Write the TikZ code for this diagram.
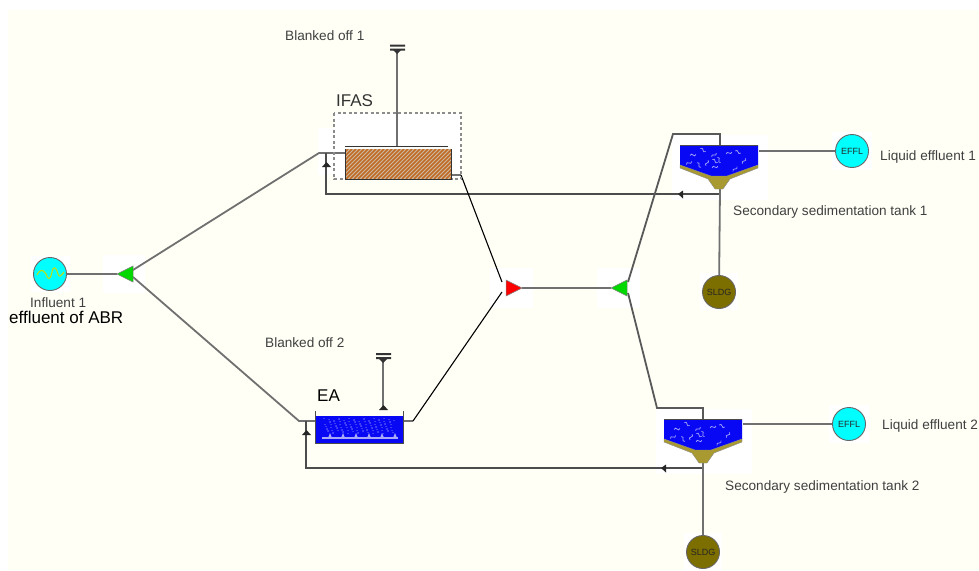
\documentclass[tikz,border=0pt]{standalone}
\usepackage{fontspec}
\setmainfont{Liberation Sans}
\definecolor{paper}{HTML}{FFFFF6}
\definecolor{pipegray}{HTML}{707070}
\definecolor{sludgeolive}{HTML}{7D6E00}
\definecolor{settleolive}{HTML}{A89A30}
\definecolor{tankblue}{HTML}{0808F4}
\definecolor{splitgreen}{HTML}{00D800}
\definecolor{dotcyan}{HTML}{00FFFF}
\definecolor{mediabrown}{HTML}{C06A24}
\definecolor{mediapale}{HTML}{CDBBA0}
\definecolor{flocpale}{HTML}{A8A8F8}
\tikzset{
  pipe/.style={draw=pipegray,line width=1.8pt},
  recycle/.style={draw=black!70,line width=1.3pt},
  thinpipe/.style={draw=black,line width=1.1pt},
  splitter/.style={draw=black!50,fill=splitgreen,line width=.5pt},
  dotbox/.style={circle,draw=black!60,line width=.9pt,minimum size=33pt,inner sep=0pt,text=black!85,font=\fontsize{9}{9}\selectfont},
  efflbox/.style={dotbox,fill=dotcyan},
  sludgebox/.style={dotbox,fill=sludgeolive},
  caption/.style={inner sep=0pt,text=black!75,font=\fontsize{13.6}{14}\selectfont},
  bigcaption/.style={inner sep=0pt,text=black,font=\fontsize{17}{18}\selectfont},
  glow/.style={fill=white,draw=none},
}
\begin{document}
\begin{tikzpicture}[x=1pt,y=-1pt]
  \useasboundingbox (0,0) rectangle (979,570);
  \fill[white] (0,0) rectangle (979,570);
  \fill[paper] (8,10) rectangle (979,570);
  % white patches
  \fill[glow] (335,113) rectangle (461,180);
  \fill[glow] (318,128) rectangle (335,175);
  \fill[glow] (31,256) rectangle (70,292);
  \fill[glow] (103,255) rectangle (145,293);
  \fill[glow] (490,268) rectangle (533,308);
  \fill[glow] (597,268) rectangle (640,308);
  \fill[glow] (672,135) rectangle (768,200);
  \fill[glow] (656,409) rectangle (752,474);
  \fill[glow] (832,132) rectangle (872,170);
  \fill[glow] (829,405) rectangle (869,443);
  \fill[glow] (700,273) rectangle (738,310);
  \fill[glow] (684,533) rectangle (722,570);
  % Node positions
  \node[circle,minimum size=33pt,inner sep=0pt,fill=dotcyan,draw=black!60,line width=.9pt] (inf) at (50,274) {};
  \draw[draw=yellow!75!green,line width=1.1pt] (37,275) .. controls (40,269) and (43,269) .. (46,274) .. controls (48,280) and (50,281) .. (52,272) .. controls (53,266) and (56,266) .. (58,274) .. controls (59,278) and (61,276) .. (64,272);
  \coordinate (splitL) at (117,274);
  \coordinate (splitLtop) at (133,270);
  \coordinate (splitLbot) at (133,277);
  \coordinate (ifasin) at (319,153);
  \coordinate (eain) at (299,421);
  \coordinate (mixin1) at (502,282);
  \coordinate (mixin2) at (502,292);
  \coordinate (mixR) at (522,288);
  \coordinate (splitR) at (611,288);
  \coordinate (splitRtop) at (628,282);
  \coordinate (splitRbot) at (628,293);
  \node[efflbox] (effl1) at (852,151) {EFFL};
  \node[efflbox] (effl2) at (849,424) {EFFL};
  \node[sludgebox] (sldg1) at (719,292) {SLDG};
  \node[sludgebox] (sldg2) at (703,552) {SLDG};
  % Feed and recycle
  \draw[pipe] (inf) -- (splitL);
  \draw[pipe] (splitLtop) -- (ifasin) -- (345,153);
  \draw[pipe] (splitLbot) -- (eain) -- (316,421);
  \draw[pipe] (mixR) -- (splitR);
  \draw[recycle] (326,153) -- (326,194) -- (720,194);
  \draw[recycle] (306,421) -- (306,468) -- (703,468);
  % Second stage pipes
  \draw[pipe,draw=black!65] (splitRtop) -- (673,134) -- (720,134) -- (720,150);
  \draw[pipe,draw=black!65] (splitRbot) -- (657,408) -- (703,408) -- (703,424);
  \draw[pipe] (720,189) -- (sldg1);
  \draw[pipe] (703,463) -- (sldg2);
  \draw[pipe] (759,151) -- (effl1);
  \draw[pipe] (743,424) -- (effl2);
  % Outlets
  \draw[pipe] (451,175) -- (461,175);
  \draw[thinpipe] (461,175) -- (mixin1);
  \draw[pipe] (403,421) -- (413,421);
  \draw[thinpipe] (413,421) -- (mixin2);
  \draw[pipe] (397,50) -- (397,147);
  \draw[pipe] (383,360) -- (383,410);
  % Blanked off caps
  \fill[black!80] (390,44.5) rectangle (405,46.5) (390,48.5) rectangle (405,50.5);
  \fill[black!80] (393,50) -- (401,50) -- (397,54) -- cycle;
  \fill[black!80] (376,353) rectangle (391,355) (376,357) rectangle (391,359);
  \fill[black!80] (379,359) -- (387,359) -- (383,363) -- cycle;
  % IFAS reactor
  \draw[draw=black!45,line width=1.2pt,dash pattern=on 3pt off 2.5pt] (334,113) rectangle (461,179);
  \fill[mediapale] (345,149) rectangle (451,179);
  \begin{scope}
    \clip (345,149) rectangle (451,179);
    \foreach \hx in {310,314,...,450} {
      \draw[mediabrown,line width=1.5pt] (\hx,179) -- (\hx+30,149);
    }
  \end{scope}
  \draw[black!80,line width=.9pt] (345,149) -- (345,179) -- (451,179) -- (451,149);
  \draw[black!80,line width=.9pt] (345,146.5) -- (448,146.5);
  % EA reactor
  \fill[tankblue] (316,416) rectangle (403,443);
  \draw[black!70,line width=.9pt] (315,411) -- (315,443) -- (403,443) -- (403,411);
  \foreach \bx in {0,...,22} {
    \foreach \by in {0,...,4} {
      \pgfmathsetmacro{\jx}{mod(\bx*7+\by*11,5)-2}
      \pgfmathsetmacro{\jy}{mod(\bx*5+\by*3,4)-1.5}
      \fill[flocpale] (326+3*\bx+\jx,420+3*\by+\jy) circle (.5pt);
    }
  }
  \foreach \px in {330,343,...,395} {
    \fill[flocpale] (\px-2,438) -- (\px,433) -- (\px+2,438) -- cycle;
  }
  \draw[flocpale,line width=1.6pt] (322,438) -- (398,438);
  % Settlers
  \foreach \cx/\cy in {719/134,703/408} {
    \begin{scope}[shift={(\cx,\cy)}]
      \fill[tankblue] (-39,11) -- (39,11) -- (39,31) -- (8,43) -- (-8,43) -- (-39,31) -- cycle;
      \fill[settleolive,draw=black!45,line width=.4pt] (-39,31) -- (-8,42) -- (8,42) -- (39,31) -- (39,34) -- (11,45) -- (4,55) -- (-4,55) -- (-11,45) -- (-39,34) -- cycle;
      \draw[black!70,line width=.8pt] (-39,11) -- (39,11);
      \foreach \fx/\fy/\fa in {-26/21/10,-16/16/-30,-5/21/40,10/19/20,19/18/-20,25/27/60,-30/29/30,-20/31/-50,-12/29/70,-4/33/15,-4/27/-30,16/35/50,0/26/-60} {
        \draw[flocpale,line width=.7pt,rotate around={\fa:(\fx,\fy)}] (\fx-3,\fy) .. controls (\fx-1,\fy-4) and (\fx+1,\fy+4) .. (\fx+3,\fy);
      }
    \end{scope}
  }
  % Recycle markers
  \fill[black!85] (678,194) -- (683,190.5) -- (683,198.5) -- cycle;
  \fill[black!85] (661,468) -- (666,464.5) -- (666,472.5) -- cycle;
  \fill[black!85] (322,167) -- (331,167) -- (326.5,162) -- cycle;
  \fill[black!85] (302,435) -- (311,435) -- (306.5,430) -- cycle;
  \fill[black!85] (379,410) -- (388,410) -- (383.5,405) -- cycle;
  % Flow splitters
  \draw[splitter] (133,266) -- (133,282) -- (117,274) -- cycle;
  \draw[splitter] (627,280) -- (627,296) -- (611,288) -- cycle;
  \draw[splitter,fill=red] (506,280) -- (506,296) -- (522,288) -- cycle;
  % Labels
  \node[caption,anchor=west] (lblblank1) at (285,36) {Blanked off 1};
  \node[caption,anchor=west] (lblblank2) at (265,343) {Blanked off 2};
  \node[bigcaption,anchor=west,text=black!80] (lblifas) at (336,101) {IFAS};
  \node[bigcaption,anchor=west] (lblea) at (317,396) {EA};
  \node[caption,anchor=west] (lblinf) at (30,303) {Influent 1};
  \node[bigcaption,anchor=west] (lblabr) at (9,317) {effluent of ABR};
  \node[caption,anchor=west] (lblliq1) at (880,157) {Liquid effluent 1};
  \node[caption,anchor=west] (lblliq2) at (882,426) {Liquid effluent 2};
  \node[caption,anchor=west] (lblsec1) at (733,212) {Secondary sedimentation tank 1};
  \node[caption,anchor=west] (lblsec2) at (725,487) {Secondary sedimentation tank 2};
\end{tikzpicture}
\end{document}
